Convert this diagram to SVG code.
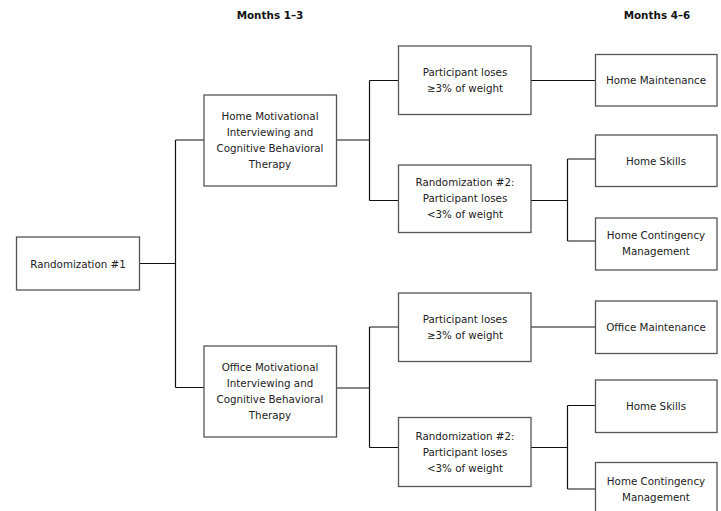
<svg xmlns="http://www.w3.org/2000/svg" width="721" height="511" viewBox="0 0 721 511">
<style>
.box{fill:#fff;stroke:#555;stroke-width:1.3}
.t{font-family:"DejaVu Sans",Verdana,sans-serif;font-size:10.3px;fill:#222;text-anchor:middle;dominant-baseline:central}
.h{font-family:"DejaVu Sans",Verdana,sans-serif;font-size:10.4px;font-weight:bold;fill:#111;text-anchor:middle;dominant-baseline:central}
.c{fill:none;stroke:#111;stroke-width:1.2}
</style>
<rect width="721" height="511" fill="#fff"/>
<text class="h" x="270" y="15">Months 1–3</text>
<text class="h" x="657" y="15">Months 4–6</text>
<g id="connectors">
<path class="c" d="M139.5,263.5H175.5M175.5,140V387.5M175.5,140H204M175.5,387.5H204"/>
<path class="c" d="M336.5,140H369.5M369.5,80.5V200.5M369.5,80.5H398.5M369.5,200.5H398.5"/>
<path class="c" d="M531,80.5H595.5"/>
<path class="c" d="M531,200.5H567.5M567.5,159V241M567.5,159H595.5M567.5,241H595.5"/>
<path class="c" d="M336.5,388H369.5M369.5,327V447.5M369.5,327H398.5M369.5,447.5H398.5"/>
<path class="c" d="M531,327H595.5"/>
<path class="c" d="M531,447.5H567.5M567.5,405.5V489M567.5,405.5H595.5M567.5,489H595.5"/>
</g>
<g id="rand1"><rect class="box" x="16.5" y="237" width="123" height="53"/><text class="t" x="78" y="263.5">Randomization #1</text></g>
<g id="homeMI"><rect class="box" x="204" y="95" width="132.5" height="91"/>
<text class="t" x="270" y="116">Home Motivational</text><text class="t" x="270" y="132">Interviewing and</text><text class="t" x="270" y="148">Cognitive Behavioral</text><text class="t" x="270" y="164">Therapy</text></g>
<g id="officeMI"><rect class="box" x="204" y="346" width="132.5" height="91"/>
<text class="t" x="270" y="367">Office Motivational</text><text class="t" x="270" y="383">Interviewing and</text><text class="t" x="270" y="399">Cognitive Behavioral</text><text class="t" x="270" y="415">Therapy</text></g>
<g id="lose1"><rect class="box" x="398.5" y="46" width="132.5" height="68.5"/>
<text class="t" x="465" y="72">Participant loses</text><text class="t" x="465" y="88">≥3% of weight</text></g>
<g id="rand2a"><rect class="box" x="398.5" y="165" width="132.5" height="67.5"/>
<text class="t" x="465" y="182">Randomization #2:</text><text class="t" x="465" y="198">Participant loses</text><text class="t" x="465" y="214">&lt;3% of weight</text></g>
<g id="lose2"><rect class="box" x="398.5" y="293" width="132.5" height="68.5"/>
<text class="t" x="465" y="319">Participant loses</text><text class="t" x="465" y="335">≥3% of weight</text></g>
<g id="rand2b"><rect class="box" x="398.5" y="417.5" width="132.5" height="69"/>
<text class="t" x="465" y="436">Randomization #2:</text><text class="t" x="465" y="452">Participant loses</text><text class="t" x="465" y="468">&lt;3% of weight</text></g>
<g id="homeMaint"><rect class="box" x="595.5" y="54.5" width="121.5" height="51.5"/><text class="t" x="656" y="80">Home Maintenance</text></g>
<g id="homeSkills1"><rect class="box" x="595.5" y="135" width="121.5" height="51.5"/><text class="t" x="656" y="161">Home Skills</text></g>
<g id="homeCM1"><rect class="box" x="595.5" y="218" width="121.5" height="52"/><text class="t" x="656" y="235">Home Contingency</text><text class="t" x="656" y="251">Management</text></g>
<g id="officeMaint"><rect class="box" x="595.5" y="301" width="121.5" height="52.5"/><text class="t" x="656" y="327">Office Maintenance</text></g>
<g id="homeSkills2"><rect class="box" x="595.5" y="380" width="121.5" height="52.5"/><text class="t" x="656" y="406">Home Skills</text></g>
<g id="homeCM2"><rect class="box" x="595.5" y="462.5" width="121.5" height="52"/><text class="t" x="656" y="481">Home Contingency</text><text class="t" x="656" y="497">Management</text></g>
</svg>
